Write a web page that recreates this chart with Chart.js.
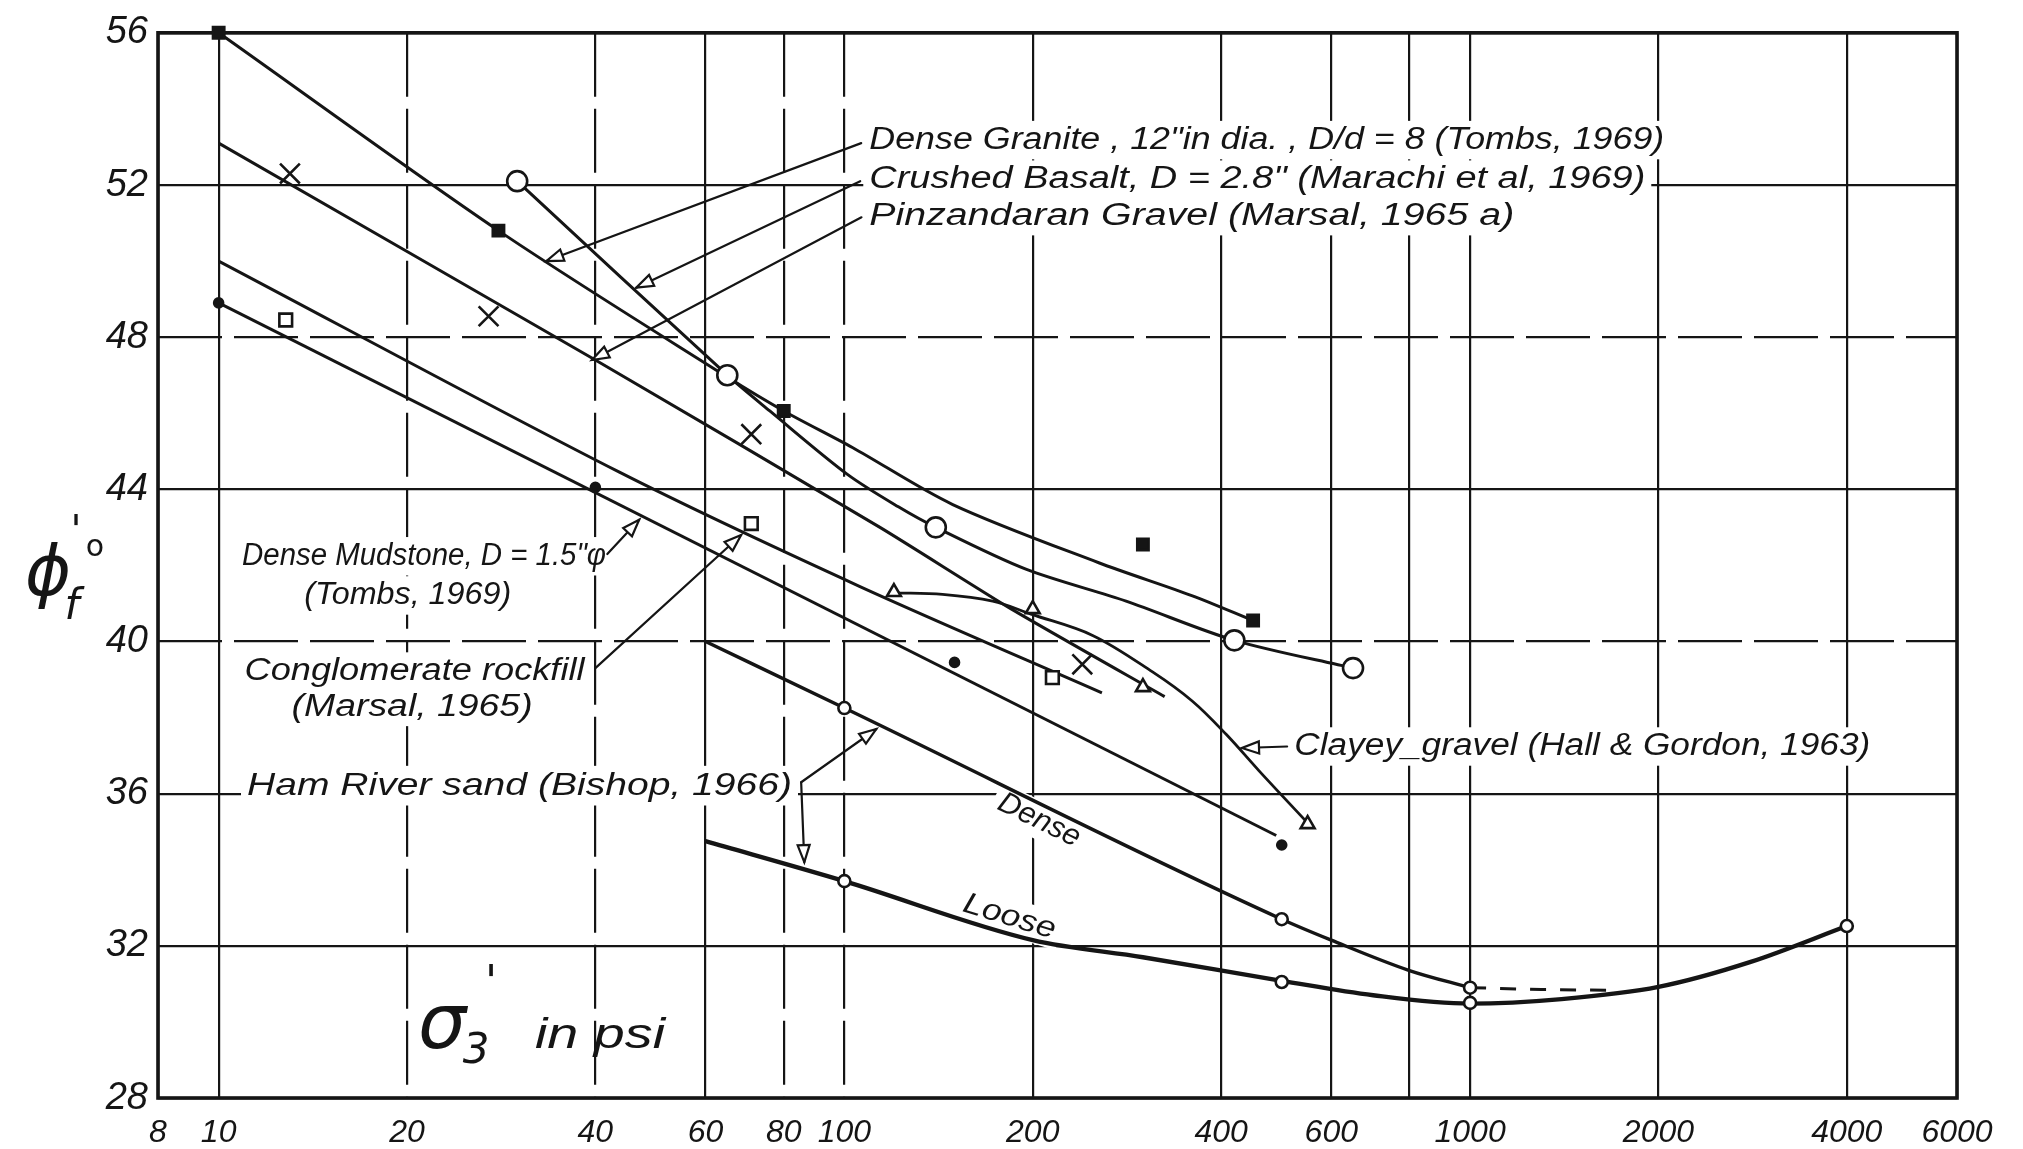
<!DOCTYPE html>
<html>
<head>
<meta charset="utf-8">
<title>Friction angle versus confining pressure</title>
<script src="https://cdn.jsdelivr.net/npm/chart.js@4.4.1/dist/chart.umd.min.js"></script>
<style>
html,body{margin:0;padding:0;background:#fff;}
canvas{display:block;}
</style>
</head>
<body>
<canvas id="chart" width="2023" height="1149"></canvas>
<script>
// ---------------- DATA ----------------
const xTickValues = [8, 10, 20, 40, 60, 80, 100, 200, 400, 600, 800, 1000, 2000, 4000, 6000];
const xTickLabels = ['8', '10', '20', '40', '60', '80', '100', '200', '400', '600', '', '1000', '2000', '4000', '6000'];
const yTickValues = [28, 32, 36, 40, 44, 48, 52, 56];

// Dense Granite, 12" dia (Tombs, 1969) - filled squares
const graniteX = [10, 28, 80, 300, 450];
const graniteY = [56.0, 50.8, 46.06, 42.55, 40.55];
const graniteCurveX = [10, 28, 65, 80, 103, 149, 255, 360, 450];
const graniteCurveY = [56.0, 50.8, 46.95, 46.06, 45.1, 43.6, 42.07, 41.2, 40.55];

// Crushed Basalt, D = 2.8" (Marachi et al, 1969) - open circles
const basaltX = [30, 65, 140, 420, 650];
const basaltY = [52.1, 47.0, 43.0, 40.03, 39.3];
const basaltCurveX = [30, 65, 76, 101, 122, 140, 195, 282, 420, 650];
const basaltCurveY = [52.1, 47.0, 46.06, 44.4, 43.54, 43.0, 41.9, 41.06, 40.03, 39.3];

// Pinzandaran Gravel (Marsal, 1965a) - crosses
const pinzX = [13, 27, 71, 240];
const pinzY = [52.3, 48.55, 45.45, 39.4];
const pinzCurveX = [10, 40, 114, 185, 325];
const pinzCurveY = [53.1, 47.4, 43.0, 40.85, 38.55];

// Dense Mudstone, D = 1.5" (Tombs, 1969) - small dots
const mudX = [10, 40, 150, 500];
const mudY = [48.9, 44.05, 39.45, 34.65];
const mudCurveX = [10, 490];
const mudCurveY = [48.9, 34.9];

// Conglomerate rockfill (Marsal, 1965) - open squares
const conglX = [12.8, 71, 215];
const conglY = [48.45, 43.1, 39.05];
const conglCurveX = [10, 43.7, 105.7, 258];
const conglCurveY = [50.0, 44.45, 41.45, 38.65];

// Clayey gravel (Hall & Gordon, 1963) - open triangles
const clayX = [120, 200, 300, 550];
const clayY = [41.3, 40.85, 38.8, 35.2];
const clayCurveX = [120, 143.5, 172.6, 198.7, 249.3, 310.8, 360, 407.5, 460, 550];
const clayCurveY = [41.28, 41.24, 41.06, 40.72, 40.16, 39.2, 38.43, 37.56, 36.6, 35.23];

// Ham River sand (Bishop, 1966) - Dense
const denseX = [100, 500, 1000];
const denseY = [38.25, 32.7, 30.9];
const denseCurveX = [60, 100, 500, 600, 800, 1000];
const denseCurveY = [40.0, 38.25, 32.7, 32.15, 31.35, 30.9];
const denseDashX = [1000, 1300, 1720];
const denseDashY = [30.9, 30.85, 30.83];

// Ham River sand (Bishop, 1966) - Loose
const looseX = [100, 500, 1000, 4000];
const looseY = [33.7, 31.05, 30.5, 32.52];
const looseCurveX = [60, 100, 200, 300, 500, 700, 1000, 1400, 2000, 2800, 4000];
const looseCurveY = [34.75, 33.7, 32.15, 31.7, 31.08, 30.7, 30.48, 30.6, 30.92, 31.57, 32.52];

// ---------------- STYLE / LAYOUT ----------------
const INK = '#151515';
const FONT = '"Liberation Sans", "DejaVu Sans", sans-serif';
const dashedXLines = [20, 40, 80, 100];
const dashedYLines = [48, 40];

// annotation anchors given in data units (x in psi, y in degrees)
const NOTE_TEXTS = [
  { t: 'Dense Granite , 12"in dia. , D/d = 8 (Tombs, 1969)', x: 109.6, y: 53.18, w: 795, size: 31 },
  { t: 'Crushed Basalt, D = 2.8" (Marachi et al, 1969)', x: 109.6, y: 52.14, w: 776, size: 31 },
  { t: 'Pinzandaran Gravel (Marsal, 1965 a)', x: 109.6, y: 51.18, w: 645, size: 31 },
  { t: 'Dense Mudstone, D = 1.5"φ', x: 10.9, y: 42.24, w: 364, size: 31 },
  { t: '(Tombs, 1969)', x: 13.7, y: 41.21, w: 207, size: 31 },
  { t: 'Conglomerate rockfill', x: 11.0, y: 39.21, w: 340, size: 31 },
  { t: '(Marsal, 1965)', x: 13.08, y: 38.28, w: 241, size: 31 },
  { t: 'Ham River sand (Bishop, 1966)', x: 11.1, y: 36.21, w: 545, size: 32 },
  { t: 'Clayey_gravel (Hall & Gordon, 1963)', x: 523.6, y: 37.24, w: 576, size: 31 },
  { t: 'Dense', x: 204.8, y: 35.3, w: 88, size: 30, rot: 26, align: 'center' },
  { t: 'Loose', x: 183.6, y: 32.76, w: 95, size: 30, rot: 17, align: 'center' }
];
const NOTE_LEADERS = [
  { from: [106.4, 53.1], to: [33.4, 50.0] },
  { from: [106.0, 52.1], to: [46.5, 49.3] },
  { from: [106.5, 51.15], to: [39.5, 47.4] },
  { from: [41.8, 42.3], to: [47.0, 43.2] },
  { from: [40.0, 39.3], to: [68.4, 42.8] },
  { from: [85.3, 36.3], to: [112.5, 37.7] },
  { from: [85.3, 36.3], to: [86.3, 34.2] },
  { from: [510, 37.24], to: [432, 37.2] }
];

// ---------------- HELPERS ----------------
function pairs(xs, ys) { return xs.map((x, i) => ({ x: x, y: ys[i] })); }
function curve(label, xs, ys, opts) {
  return Object.assign({
    label: label, data: pairs(xs, ys), showLine: true, pointRadius: 0, pointHoverRadius: 0,
    borderColor: INK, backgroundColor: INK, borderWidth: 3, tension: 0, fill: false, clip: false, order: 2
  }, opts || {});
}
function marks(label, xs, ys, style, radius, filled, opts) {
  return Object.assign({
    label: label, data: pairs(xs, ys), showLine: false, pointStyle: style, pointRadius: radius,
    pointHoverRadius: radius, pointBorderWidth: 2.6, pointBorderColor: INK,
    pointBackgroundColor: filled ? INK : '#fff', borderColor: INK,
    backgroundColor: filled ? INK : '#fff', clip: false, order: 1
  }, opts || {});
}

function drawNote(ctx, n, px, py) {
  ctx.save();
  ctx.font = 'italic ' + n.size + 'px ' + FONT;
  const m = ctx.measureText(n.t).width;
  const sx = n.w / m;
  ctx.translate(px, py);
  if (n.rot) ctx.rotate(n.rot * Math.PI / 180);
  const x0 = n.align === 'center' ? -n.w / 2 : 0;
  ctx.fillStyle = '#fff';
  ctx.fillRect(x0 - 6, -n.size * 0.62, n.w + 12, n.size * 1.24);
  ctx.scale(sx, 1);
  ctx.fillStyle = INK;
  ctx.textBaseline = 'middle';
  ctx.textAlign = n.align === 'center' ? 'center' : 'left';
  ctx.fillText(n.t, 0, 0);
  ctx.restore();
}

function arrowHead(ctx, x0, y0, x1, y1) {
  const ang = Math.atan2(y1 - y0, x1 - x0);
  const L = 17, W = 6;
  ctx.save();
  ctx.translate(x1, y1);
  ctx.rotate(ang);
  ctx.beginPath();
  ctx.moveTo(0, 0); ctx.lineTo(-L, -W); ctx.lineTo(-L, W); ctx.closePath();
  ctx.fillStyle = '#fff'; ctx.fill();
  ctx.lineWidth = 2.2; ctx.strokeStyle = INK; ctx.stroke();
  ctx.restore();
}

const notesPlugin = {
  id: 'notes',
  beforeDatasetsDraw(chart) {
    const ctx = chart.ctx, a = chart.chartArea, sx = chart.scales.x, sy = chart.scales.y;
    NOTE_TEXTS.forEach(n => drawNote(ctx, n, sx.getPixelForValue(n.x), sy.getPixelForValue(n.y)));
    ctx.save();
    ctx.strokeStyle = INK; ctx.lineWidth = 2.2; ctx.lineCap = 'round';
    NOTE_LEADERS.forEach(l => {
      const x0 = sx.getPixelForValue(l.from[0]), y0 = sy.getPixelForValue(l.from[1]);
      const x1 = sx.getPixelForValue(l.to[0]), y1 = sy.getPixelForValue(l.to[1]);
      ctx.beginPath(); ctx.moveTo(x0, y0); ctx.lineTo(x1, y1); ctx.stroke();
      arrowHead(ctx, x0, y0, x1, y1);
    });
    ctx.restore();
    ctx.save();
    ctx.strokeStyle = INK; ctx.lineWidth = 3.6;
    ctx.strokeRect(a.left, a.top, a.right - a.left, a.bottom - a.top);
    ctx.restore();
  },
  afterDraw(chart) {
    const ctx = chart.ctx, a = chart.chartArea;
    ctx.save();
    ctx.fillStyle = INK;
    ctx.textAlign = 'center';
    ctx.textBaseline = 'middle';
    // y axis title  phi'_f (degrees)
    ctx.font = 'italic 70px "DejaVu Sans"';
    ctx.fillText('ϕ', a.left - 110, 577);
    ctx.font = '40px "DejaVu Sans"';
    ctx.fillText("'", a.left - 82, 534);
    ctx.font = '30px "DejaVu Sans"';
    ctx.fillText('o', a.left - 63, 548);
    ctx.font = 'italic 42px "DejaVu Sans"';
    ctx.fillText('f', a.left - 86, 608);
    // x axis title  sigma'_3 in psi
    ctx.font = 'italic 76px "DejaVu Sans"';
    ctx.fillText('σ', a.left + 284, a.bottom - 70);
    ctx.font = '44px "DejaVu Sans"';
    ctx.fillText("'", a.left + 333, a.bottom - 112);
    ctx.font = 'italic 42px "DejaVu Sans"';
    ctx.fillText('3', a.left + 318, a.bottom - 46);
    ctx.save();
    ctx.font = 'italic 42px ' + FONT;
    const w = ctx.measureText('in psi').width;
    ctx.translate(a.left + 377, a.bottom - 62);
    ctx.scale(130 / w, 1);
    ctx.textAlign = 'left';
    ctx.fillText('in psi', 0, 0);
    ctx.restore();
    ctx.restore();
  }
};

// ---------------- CHART ----------------
const datasets = [
  curve('Dense Granite curve', graniteCurveX, graniteCurveY, { tension: 0.3 }),
  curve('Crushed Basalt curve', basaltCurveX, basaltCurveY, { tension: 0.3 }),
  curve('Pinzandaran Gravel curve', pinzCurveX, pinzCurveY, { tension: 0.2 }),
  curve('Dense Mudstone curve', mudCurveX, mudCurveY),
  curve('Conglomerate rockfill curve', conglCurveX, conglCurveY, { tension: 0.3 }),
  curve('Clayey gravel curve', clayCurveX, clayCurveY, { tension: 0.35, borderWidth: 2.8 }),
  curve('Ham River Dense curve', denseCurveX, denseCurveY, { cubicInterpolationMode: 'monotone', borderWidth: 3.4 }),
  curve('Ham River Dense extension', denseDashX, denseDashY, { borderDash: [16, 14], borderWidth: 3 }),
  curve('Ham River Loose curve', looseCurveX, looseCurveY, { cubicInterpolationMode: 'monotone', borderWidth: 4.4 }),

  marks('Dense Granite', graniteX, graniteY, 'rect', 8, true),
  marks('Crushed Basalt', basaltX, basaltY, 'circle', 10, false),
  marks('Pinzandaran Gravel', pinzX, pinzY, 'crossRot', 14, false, { pointBorderWidth: 2.6 }),
  marks('Dense Mudstone', mudX, mudY, 'circle', 4.5, true),
  marks('Conglomerate rockfill', conglX, conglY, 'rect', 9, false),
  marks('Clayey gravel', clayX, clayY, 'triangle', 8, false),
  marks('Ham River Dense', denseX, denseY, 'circle', 6, false),
  marks('Ham River Loose', looseX, looseY, 'circle', 6, false)
];

new Chart(document.getElementById('chart'), {
  type: 'scatter',
  data: { datasets: datasets },
  plugins: [notesPlugin],
  options: {
    responsive: false,
    animation: false,
    devicePixelRatio: 1,
    events: [],
    layout: { padding: { left: 0, right: 66, top: 20, bottom: 0 } },
    plugins: { legend: { display: false }, tooltip: { enabled: false } },
    scales: {
      x: {
        type: 'logarithmic', min: 8, max: 6000,
        afterBuildTicks: s => { s.ticks = xTickValues.map(v => ({ value: v })); },
        afterFit: s => { s.height = 51; },
        ticks: {
          autoSkip: false, maxRotation: 0, minRotation: 0, padding: 16, color: INK,
          font: { family: FONT, style: 'italic', size: 32 },
          callback: (v, i) => xTickLabels[i]
        },
        grid: { color: INK, lineWidth: 2.2, drawTicks: false },
        border: { display: false, dash: c => (c.tick && dashedXLines.includes(c.tick.value)) ? [64, 12] : [] }
      },
      y: {
        type: 'linear', min: 28, max: 56,
        afterBuildTicks: s => { s.ticks = yTickValues.map(v => ({ value: v })); },
        afterFit: s => { s.width = 158; },
        ticks: { padding: 10, color: INK, font: { family: FONT, style: 'italic', size: 38 } },
        grid: { color: INK, lineWidth: 2.2, drawTicks: false },
        border: { display: false, dash: c => (c.tick && dashedYLines.includes(c.tick.value)) ? [64, 12] : [] }
      }
    }
  }
});
</script>
</body>
</html>
